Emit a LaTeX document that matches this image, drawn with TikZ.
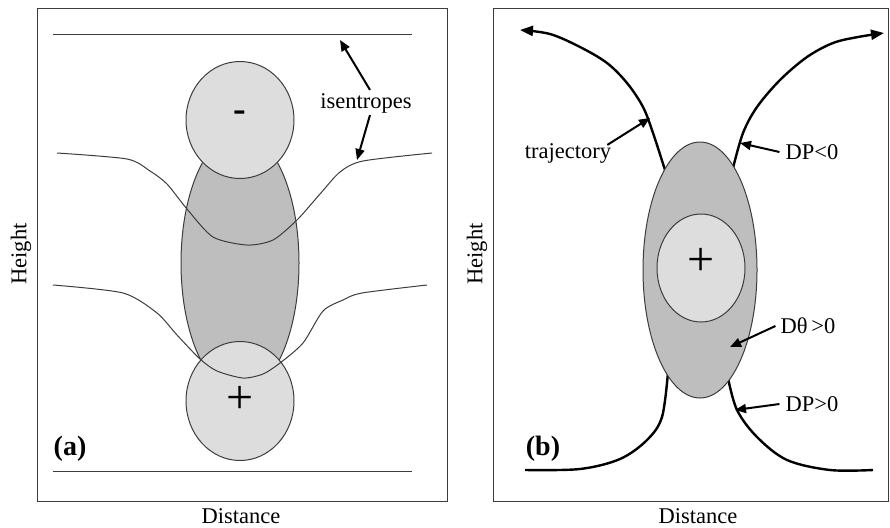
\documentclass[tikz,border=0pt]{standalone}
\usepackage{fontspec}
\setmainfont{Liberation Serif}
\usetikzlibrary{arrows.meta}
\definecolor{lightg}{RGB}{221,221,221}
\definecolor{darkg}{RGB}{190,190,190}
\definecolor{edge}{RGB}{60,60,60}
\begin{document}
\begin{tikzpicture}[x=1pt,y=-1pt,
  lbl/.style={font=\fontsize{22.5}{24}\selectfont, inner sep=0pt},
  tag/.style={font=\fontsize{28}{30}\selectfont\bfseries, inner sep=0pt},
  sign/.style={font=\fontsize{48}{50}\selectfont, inner sep=0pt},
  frame/.style={draw=edge, line width=1pt},
  isen/.style={draw=edge, line width=1pt},
  traj/.style={draw=black, line width=2.4pt},
  ptr/.style={draw=black, line width=2pt, -{Triangle[length=11pt,width=9pt]}},
  lightblob/.style={fill=lightg, draw=edge, line width=1pt},
  darkblob/.style={fill=darkg, draw=edge, line width=1pt}]
\useasboundingbox (0,0) rectangle (890,527);

% ---------------- panel (a) ----------------
\draw[frame] (37,9) rectangle (447,501);
\draw[darkblob] (240,263) ellipse [x radius=59pt, y radius=130pt];
\draw[lightblob] (240,120) ellipse [x radius=54pt, y radius=58.5pt];
\draw[lightblob] (240,401) ellipse [x radius=54pt, y radius=59.5pt];
\draw[isen] (53,35) -- (412,35);
\draw[isen] (53,471) -- (412,471);
\draw[isen] plot[smooth, tension=0.45] coordinates {(57,153) (127,159) (150,171) (167,184) (187,209) (213,237) (247,245) (273,240) (297,220) (320,194) (340,172) (363,161) (432,153)};
\draw[isen] plot[smooth, tension=0.45] coordinates {(53,285) (123,293) (157,313) (177,335) (200,359) (217,371) (243,378) (263,374) (280,363) (303,343) (323,311) (343,300) (362,293) (427,285)};
\node[inner sep=0pt, font=\fontsize{38}{40}\selectfont\bfseries] (minus) at (240,116) {-};
\node[sign] (plusa) at (240,400) {+};
\node[tag] (taga) at (70,449) {(a)};
\node[lbl] (isentr) at (366,103) {isentropes};
\coordinate (isA) at (340,40);
\coordinate (isB) at (357,160);
\draw[ptr] ([xshift=4pt,yshift=3pt]isentr.north) -- (isA);
\draw[ptr] ([xshift=4pt,yshift=-2pt]isentr.south) -- (isB);
\node[lbl, rotate=90] (hta) at (21,254) {Height};
\node[lbl] (dsa) at (241,516) {Distance};

% ---------------- panel (b) ----------------
\draw[frame] (493,9) rectangle (888.5,501);
\draw[traj, -{Triangle[length=13pt,width=10pt]}] plot[smooth, tension=0.55] coordinates {(665,170) (653,133) (643,107) (627,83) (607,63) (580,47) (550,34) (520,30)};
\draw[traj, -{Triangle[length=13pt,width=10pt]}] plot[smooth, tension=0.55] coordinates {(733,168) (743,133) (757,107) (780,80) (807,57) (833,43) (858,37) (884,33)};
\draw[traj] plot[smooth, tension=0.55] coordinates {(668,372) (662,417) (647,440) (620,459) (580,469) (525,470)};
\draw[traj] plot[smooth, tension=0.55] coordinates {(728,378) (737,410) (757,437) (787,460) (830,470) (873,470)};
\draw[darkblob] (700,270) ellipse [x radius=57pt, y radius=128pt];
\draw[lightblob] (701,268) ellipse [x radius=44pt, y radius=54pt];
\node[sign] (plusb) at (701,262) {+};
\node[tag] (tagb) at (543,449) {(b)};
\node[lbl] (trajl) at (568,153) {trajectory};
\node[lbl] (dpn) at (812,152) {DP<0};
\node[lbl] (dth) at (808,326) {Dθ\,>0};
\node[lbl] (dpp) at (812,404) {DP>0};
\coordinate (tjA) at (650,118);
\coordinate (dpnA) at (740,143);
\coordinate (dthA) at (730,347);
\coordinate (dppA) at (735,410);
\draw[ptr] ([xshift=-4pt,yshift=-2pt]trajl.north east) -- (tjA);
\draw[ptr] ([xshift=-6pt]dpn.west) -- (dpnA);
\draw[ptr] ([xshift=-5pt]dth.west) -- (dthA);
\draw[ptr] ([xshift=-6pt]dpp.west) -- (dppA);
\node[lbl, rotate=90] (htb) at (477,254) {Height};
\node[lbl] (dsb) at (698,516) {Distance};
\end{tikzpicture}
\end{document}
